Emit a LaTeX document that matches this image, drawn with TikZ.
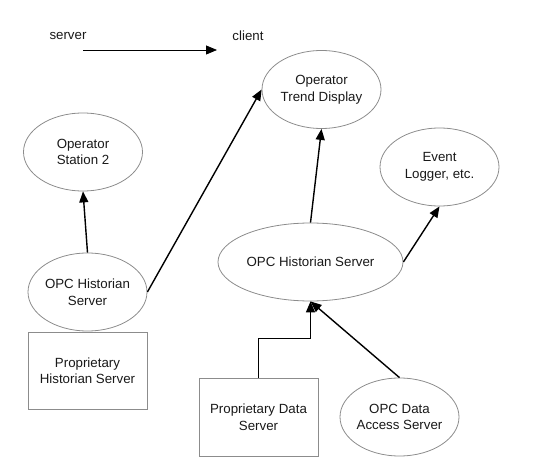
\documentclass[tikz,border=0pt]{standalone}
\usepackage{fontspec}
\setmainfont{Liberation Sans}
\usetikzlibrary{shapes.geometric,arrows.meta}
\begin{document}
\begin{tikzpicture}[x=1pt,y=-1pt,
  every node/.style={font=\fontsize{13.3}{16.5}\selectfont, text=black!90, align=center, inner sep=0pt},
  ell/.style={draw=black!45, line width=0.8pt, ellipse, inner sep=-14pt, minimum width=119pt, minimum height=78pt},
  boxn/.style={draw=black!45, line width=0.8pt, rectangle, minimum width=119pt, minimum height=78pt},
  conn/.style={line width=1.4pt, -{Triangle[length=11pt,width=9pt]}},
  legendarrow/.style={line width=0.8pt, -{Triangle[length=11pt,width=9pt]}}]
\useasboundingbox (0,0) rectangle (546,470);
% legend
\node (srv) at (68,36) {server};
\node (cli) at (248,36) {client};
\coordinate (la) at (83,50);
\coordinate (lb) at (217,50);
\draw[legendarrow] (la) -- (lb);
% nodes
\node[ell] (trend) at (321.5,89.5) {Operator\\Trend Display};
\node[ell] (os2) at (83,152) {Operator\\Station 2};
\node[ell] (event) at (439.5,167) {Event\\Logger, etc.};
\node[ell] (lhist) at (87.5,292) {OPC Historian\\Server};
\node[ell, minimum width=185pt] (rhist) at (310.5,262) {OPC Historian Server};
\node[boxn, minimum height=77pt] (phs) at (87.5,370.5) {Proprietary\\Historian Server};
\node[boxn] (pds) at (258.5,417) {Proprietary Data\\Server};
\node[ell] (opcda) at (399.5,417) {OPC Data\\Access Server};
% connectors
\draw[conn] (lhist.north) -- (os2.south);
\draw[conn] (lhist.east) -- (trend.west);
\draw[conn] (rhist.north) -- (trend.south);
\draw[conn] (rhist.east) -- (event.south);
\draw[conn] (pds.north) -- ++(0,-39) -| (rhist.south);
\draw[conn] (opcda.north) -- (rhist.south);
\end{tikzpicture}
\end{document}
